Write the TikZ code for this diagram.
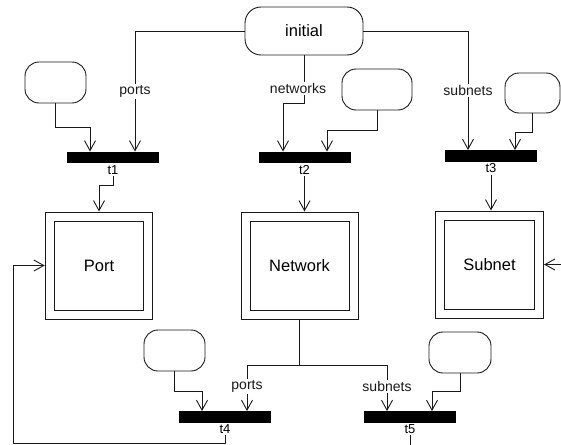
\documentclass[tikz,border=0pt]{standalone}
\usepackage{fontspec}
\setmainfont{Liberation Sans}
\usepackage{xcolor}
\usetikzlibrary{arrows.meta}
\definecolor{inkblack}{RGB}{25,25,25}

\begin{document}
\begin{tikzpicture}[
    x=1pt, y=-1pt,
    place/.style={draw=inkblack, rounded corners=14pt, line width=0.9pt,
                  minimum width=61pt, minimum height=41pt, inner sep=0pt,
                  font=\fontsize{16.5}{18}\selectfont},
    trans/.style={fill=black, minimum width=92pt, minimum height=11.5pt, inner sep=0pt,
                  label={[tlabel, name=#1-lbl]below:#1}},
    tlabel/.style={font=\fontsize{13}{14}\selectfont, inner sep=1.5pt},
    class/.style={draw=inkblack, line width=1pt, double, double distance=8pt,
                  minimum height=98pt, inner sep=0pt, outer sep=5pt,
                  font=\fontsize{16.5}{18}\selectfont},
    inscr/.style={fill=white, inner sep=1.5pt, font=\fontsize{14}{16}\selectfont},
    arc/.style={-{Straight Barb[length=10pt,width=11pt]}, line width=0.9pt, color=inkblack}
]
\useasboundingbox (0,0) rectangle (561,444);

\node[place, minimum width=118pt, minimum height=48pt, rounded corners=16pt] (init) at (304,31) {initial};
\node[place] (p1) at (55.5,82.5) {};
\node[place, minimum width=70pt] (p2) at (377,89.5) {};
\node[place, minimum width=55pt, minimum height=40pt] (p3) at (532.5,93) {};
\node[place] (p4) at (174.5,350.5) {};
\node[place, minimum width=62pt] (p5) at (460,352.5) {};

\node[trans=t1] (t1) at (113,157.5) {};
\node[trans=t2] (t2) at (304.5,157.5) {};
\node[trans=t3] (t3) at (491,156) {};
\node[trans=t4] (t4) at (225,417) {};
\node[trans=t5] (t5) at (410,417) {};

\node[class, minimum width=98.5pt] (port) at (99,265.5) {Port};
\node[class, minimum width=108pt] (net) at (299.5,265.5) {Network};
\node[class, minimum width=99pt] (sub) at (489.5,264.5) {Subnet};

% initial marking
\draw[arc] (init.west) -| node[inscr, pos=0.75] {ports} ([xshift=22pt]t1.north);
\draw[arc] (init.south) -- node[inscr, pos=0.69, xshift=-6pt] {networks} ++(0,48)
    -| ([xshift=-21.5pt]t2.north);
\draw[arc] (init.east) -| node[inscr, pos=0.75] {subnets} ([xshift=-23pt]t3.north);
\draw[arc] (p1.south) -- ++(0,24) -| ([xshift=-23pt]t1.north);
\draw[arc] (p2.south) -- ++(0,20) -| ([xshift=22.5pt]t2.north);
\draw[arc] (p3.south) -- ++(0,19) -| ([xshift=24pt]t3.north);

% creation
\draw[arc] (t1-lbl.south) -- (113,185) -| (port.north);
\draw[arc] (t2-lbl.south) -- (t2-lbl.south |- net.north);
\draw[arc] (t3-lbl.south) -- (t3-lbl.south |- sub.north);

% network contents
\draw[line width=0.9pt, color=inkblack] (net.south) -- ++(0,46) coordinate (split);
\draw[arc] (split) -| node[inscr, pos=0.73] {ports} ([xshift=22pt]t4.north);
\draw[arc] (split) -| node[inscr, pos=0.73] {subnets} ([xshift=-23pt]t5.north);
\draw[arc] (p4.south) -- ++(0,20) -| ([xshift=-23pt]t4.north);
\draw[arc] (p5.south) -- ++(0,18) -| ([xshift=22pt]t5.north);
\draw[arc] (t4-lbl.south) |- (13,443) |- (port.west);
\draw[arc] (t5-lbl.south) |- (580,460) |- (sub.east);
\end{tikzpicture}
\end{document}
